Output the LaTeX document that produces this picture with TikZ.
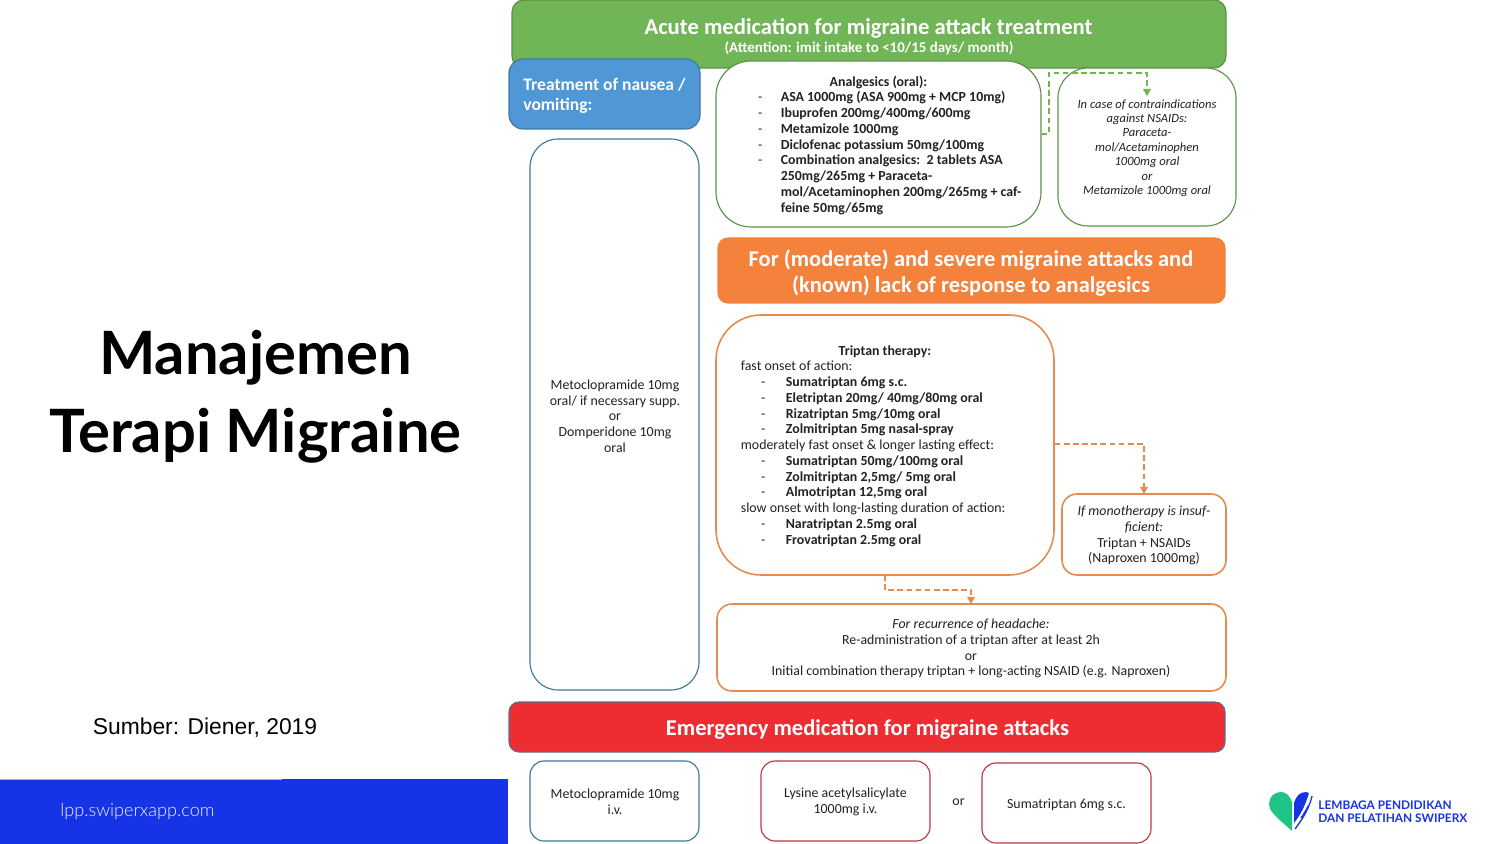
\documentclass[tikz,border=0pt]{standalone}
\usepackage{fontspec}
\setmainfont{Carlito}
\newfontfamily\titlefont{Lato}
\newfontfamily\urlfont{Lato Light}
\newfontfamily\arialfont{Liberation Sans}
\usetikzlibrary{arrows.meta,calc}
\definecolor{gfill}{HTML}{70B556}
\definecolor{gline}{HTML}{5B8F47}
\definecolor{gdash}{HTML}{6FB552}
\definecolor{bfill}{HTML}{5097D5}
\definecolor{bline}{HTML}{3F77A6}
\definecolor{tline}{HTML}{3C7A96}
\definecolor{ofill}{HTML}{F4813C}
\definecolor{oline}{HTML}{E58B4F}
\definecolor{rfill}{HTML}{EE2D33}
\definecolor{rline}{HTML}{B83A45}
\definecolor{rbar}{HTML}{5B6F8C}
\definecolor{bar}{HTML}{1733E6}
\definecolor{heart}{HTML}{1FC586}
\definecolor{txt}{HTML}{222222}
\newcommand\bl[1]{\hspace*{12.8pt}\makebox[0pt][c]{-}\hspace*{12.8pt}\textbf{#1}}
\newcommand\al[1]{\makebox[0pt][c]{-}\hspace*{11.67pt}\textbf{#1}}
\tikzset{
  x=0.02cm,y=-0.02cm,
  boxn/.style={draw,line width=0.65pt,fill=white,inner sep=0pt},
  txtn/.style={inner sep=0pt,text=txt,font=\fontsize{7.9}{8.97}\selectfont},
  ctxt/.style={txtn,align=center},
  ltxt/.style={txtn,align=left},
  head/.style={inner sep=0pt,text=white,align=center},
  gdashl/.style={draw=gdash,line width=0.65pt,dash pattern=on 3.2pt off 2pt,-{Triangle[length=4pt,width=4.4pt]}},
  odashl/.style={draw=oline,line width=0.65pt,dash pattern=on 3.2pt off 2pt,-{Triangle[length=4pt,width=4.4pt]}},
}
\newcommand\rb[8]{% name,x1,y1,x2,y2,radius,style,text
  \node[#7,rounded corners=#6*0.02cm,minimum width=(#4-#2)*0.02cm,minimum height=(#5-#3)*0.02cm,anchor=center] (#1) at ({(#2+#4)/2},{(#3+#5)/2}) {#8};}
\begin{document}
\begin{tikzpicture}
\useasboundingbox (0,0) rectangle (1500,844);
\fill[white] (0,0) rectangle (1500,844);
% left side
\node[inner sep=0pt,font=\titlefont\bfseries\fontsize{34}{40}\selectfont] (t1) at (255.5,358) {Manajemen};
\node[inner sep=0pt,font=\titlefont\bfseries\fontsize{34}{40}\selectfont] (t2) at (255.5,436) {Terapi Migraine};
\node[inner sep=0pt,font=\arialfont\fontsize{13}{16}\selectfont] (src) at (205,728) {Sumber: Diener, 2019};
\fill[bar] (0,779) rectangle (508,844);
\draw[line width=0.4pt,white!60!bar] (0,779.3) -- (282,779.3);
\node[inner sep=0pt,anchor=west,text=white!92!bar,font=\urlfont\fontsize{10.3}{12}\selectfont] (url) at (60,812) {lpp.swiperxapp.com};
% boxes
\rb{green}{512}{0}{1226}{68}{12}{boxn,draw=gline,fill=gfill}{}
\node[head,font=\bfseries\fontsize{12.9}{14}\selectfont] (gh1) at (868.5,28.5) {Acute medication for migraine attack treatment};
\node[head,font=\bfseries\fontsize{8.5}{9}\selectfont] (gh2) at (869,48.5) {(Attention: imit intake to <10/15 days/ month)};
\rb{blue}{509}{59}{700}{129}{14}{boxn,draw=bline,fill=bfill}{}
\node[head,align=left,anchor=north west,font=\bfseries\fontsize{10}{11.4}\selectfont] (bh) at (523,77.5) {Treatment of nausea /\\vomiting:};
\rb{meto}{530}{139}{699}{690}{28}{boxn,draw=tline}{}
\node[ctxt] (metot) at (615,416) {Metoclopramide 10mg\\oral/ if necessary supp.\\or\\Domperidone 10mg\\oral};
\rb{ana}{716}{61}{1041}{227}{35}{boxn,draw=gline}{}
\node[ltxt,anchor=north west] (anat) at (760,75.5) {\hspace*{67.2pt}\makebox[0pt][c]{\textbf{Analgesics (oral):}}\\
\al{ASA 1000mg (ASA 900mg + MCP 10mg)}\\
\al{Ibuprofen 200mg/400mg/600mg}\\
\al{Metamizole 1000mg}\\
\al{Diclofenac potassium 50mg/100mg}\\
\al{Combination analgesics:\ \ 2 tablets ASA}\\
\hspace*{11.67pt}\textbf{250mg/265mg + Paraceta-}\\
\hspace*{11.67pt}\textbf{mol/Acetaminophen 200mg/265mg + caf-}\\
\hspace*{11.67pt}\textbf{feine 50mg/65mg}};
\rb{contra}{1058}{68}{1236}{226}{30}{boxn,draw=gline!85!gdash}{}
\node[ctxt,font=\fontsize{7.15}{8.2}\selectfont\itshape] (contrat) at (1147,148) {In case of contraindications\\against NSAIDs:\\Paraceta-\\mol/Acetaminophen\\1000mg oral\\or\\Metamizole 1000mg oral};
\rb{orange}{718}{238}{1225}{303}{10}{boxn,draw=ofill,fill=ofill}{}
\node[head,font=\bfseries\fontsize{12.8}{14.8}\selectfont] (oh) at (971,273.5) {For (moderate) and severe migraine attacks and\\(known) lack of response to analgesics};
\rb{trip}{716}{315}{1054}{575}{45}{boxn,draw=oline,line width=0.9pt}{}
\node[ltxt,anchor=north west] (tript) at (740.5,345) {\hspace*{82pt}\makebox[0pt][c]{\textbf{Triptan therapy:}}\\
fast onset of action:\\
\bl{Sumatriptan 6mg s.c.}\\
\bl{Eletriptan 20mg/ 40mg/80mg oral}\\
\bl{Rizatriptan 5mg/10mg oral}\\
\bl{Zolmitriptan 5mg nasal-spray}\\
moderately fast onset \& longer lasting effect:\\
\bl{Sumatriptan 50mg/100mg oral}\\
\bl{Zolmitriptan 2,5mg/ 5mg oral}\\
\bl{Almotriptan 12,5mg oral}\\
slow onset with long-lasting duration of action:\\
\bl{Naratriptan 2.5mg oral}\\
\bl{Frovatriptan 2.5mg oral}};
\rb{mono}{1062}{494}{1226}{575}{15}{boxn,draw=oline,line width=0.9pt}{}
\node[ctxt] (monot) at (1144,535.5) {\textit{If monotherapy is insuf-}\\\textit{ficient:}\\Triptan + NSAIDs\\(Naproxen 1000mg)};
\rb{recur}{717}{604}{1226}{691}{15}{boxn,draw=oline,line width=0.9pt}{}
\node[ctxt] (recurt) at (971,648.5) {\textit{For recurrence of headache:}\\Re-administration of a triptan after at least 2h\\or\\Initial combination therapy triptan + long-acting NSAID (e.g. Naproxen)};
\rb{red}{509}{702}{1225}{752}{10}{boxn,draw=rbar,fill=rfill}{}
\node[head,font=\bfseries\fontsize{12.85}{14}\selectfont] (rh) at (867.5,729.5) {Emergency medication for migraine attacks};
\rb{b1}{530}{761}{699}{841}{14}{boxn,draw=tline}{}
\node[ctxt] (b1t) at (615,802) {Metoclopramide 10mg\\i.v.};
\rb{b2}{761}{761}{930}{841}{14}{boxn,draw=rline}{}
\node[ctxt] (b2t) at (845.5,802) {Lysine acetylsalicylate\\1000mg i.v.};
\rb{b3}{982}{763}{1151}{843}{14}{boxn,draw=rline}{}
\node[ctxt] (b3t) at (1066.5,804.5) {Sumatriptan 6mg s.c.};
\node[ctxt] (ort) at (958.5,802) {or};
% connectors
\coordinate (gs) at (ana.east |- 0,134);
\coordinate (gend) at (1147,96);
\draw[gdashl] (gs) -- (1049,134) -- (1049,73) -- (1147,73) -- (gend);
\coordinate (os) at (trip.east |- 0,444);
\coordinate (mt) at (1144,494);
\draw[odashl] (os) -- (1144,444) -- (mt);
\coordinate (ts) at (885,575);
\coordinate (rt) at (971,604);
\draw[odashl] (ts) -- (885,590) -- (971,590) -- (rt);
% logo
\fill[heart] (1292,802) .. controls (1290,796) and (1286,792) .. (1281,792) .. controls (1274,792) and (1269,797) .. (1269,804) .. controls (1269,811) and (1275,816) .. (1292,831) -- cycle;
\fill[bar] (1294,803) .. controls (1296,796) and (1300,792) .. (1306,792) -- (1309,793) .. controls (1306,803) and (1302,813) .. (1294,823) -- cycle;
\draw[bar,line width=0.75pt] (1312,796) .. controls (1310,805) and (1305,816) .. (1295,829);
\draw[bar,line width=0.75pt] (1308,806) .. controls (1306,811) and (1303,815) .. (1301,818);
\node[inner sep=0pt,anchor=west,align=left,text=bar,font=\titlefont\bfseries\fontsize{6.75}{7.6}\selectfont] (logo) at (1318,811.5) {LEMBAGA PENDIDIKAN\\DAN PELATIHAN SWIPERX};
\end{tikzpicture}
\end{document}
